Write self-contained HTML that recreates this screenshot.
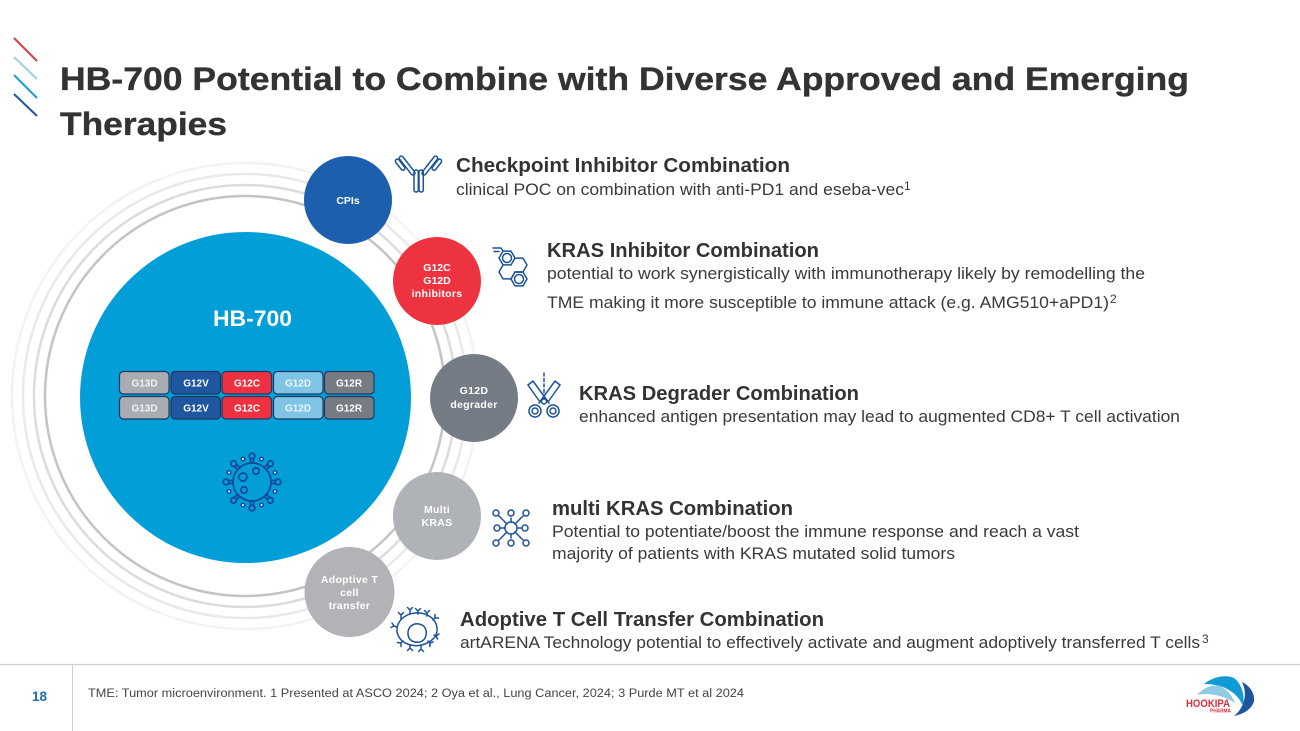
<!DOCTYPE html>
<html><head><meta charset="utf-8"><style>
html,body{margin:0;padding:0;background:#fff;width:1300px;height:731px;overflow:hidden}
svg{display:block}
text{font-family:"Liberation Sans",sans-serif}
.t{font-weight:bold;font-size:32px;fill:#333;stroke:#333;stroke-width:.35}
.h{font-weight:bold;font-size:20px;fill:#333}
.b{font-size:16.5px;fill:#3a3a3a}
.s{font-size:12px;fill:#3a3a3a}
.c{font-weight:bold;font-size:10.5px;fill:#fff;text-anchor:middle}
.k{font-weight:bold;font-size:10px;text-anchor:middle;fill:#fff}
.i{fill:none;stroke:#1b5299;stroke-width:1.5;stroke-linejoin:round;stroke-linecap:round}
</style></head><body>
<svg width="1300" height="731" viewBox="0 0 1300 731" xmlns="http://www.w3.org/2000/svg">
<rect width="1300" height="731" fill="#fff"/>
<g stroke-width="2" fill="none">
<line x1="14" y1="38" x2="37" y2="61" stroke="#d2404a"/>
<line x1="14" y1="57" x2="37" y2="79" stroke="#9ed0e2"/>
<line x1="14" y1="75" x2="37" y2="98" stroke="#1f9ad2"/>
<line x1="14" y1="94" x2="37" y2="116" stroke="#1d559f"/>
</g>
<text class="t" x="60" y="90" textLength="1129" lengthAdjust="spacingAndGlyphs">HB-700 Potential to Combine with Diverse Approved and Emerging</text>
<text class="t" x="60" y="135" textLength="167" lengthAdjust="spacingAndGlyphs">Therapies</text>

<g fill="none">
<circle cx="245" cy="396" r="233" stroke="#f3f3f3" stroke-width="2.5"/>
<circle cx="245" cy="396" r="222" stroke="#e9e9e9" stroke-width="2.5"/>
<circle cx="245" cy="396" r="211" stroke="#dcdcdc" stroke-width="2.5"/>
<circle cx="245" cy="396" r="200" stroke="#c4c4c4" stroke-width="2.5"/>
</g>
<circle cx="245.5" cy="397.5" r="165.5" fill="#029ed8"/>
<text x="252.5" y="326" font-size="22" font-weight="bold" fill="#fff" text-anchor="middle" textLength="79" lengthAdjust="spacingAndGlyphs">HB-700</text>

<g stroke="#1f3a60" stroke-width="1.2">
<rect x="119.5" y="371.5" width="49.500" height="22.500" rx="4" fill="#a9acb3"/>
<rect x="171" y="371.500" width="49.500" height="22.500" rx="4" fill="#1e56a0"/>
<rect x="222" y="371.500" width="49.500" height="22.500" rx="4" fill="#ed3140"/>
<rect x="273.500" y="371.500" width="49.500" height="22.500" rx="4" fill="#7fc4e4"/>
<rect x="324.500" y="371.500" width="49.500" height="22.500" rx="4" fill="#777b84"/>
<rect x="119.5" y="396.500" width="49.500" height="22.500" rx="4" fill="#a9acb3"/>
<rect x="171" y="396.500" width="49.500" height="22.500" rx="4" fill="#1e56a0"/>
<rect x="222" y="396.500" width="49.500" height="22.500" rx="4" fill="#ed3140"/>
<rect x="273.500" y="396.500" width="49.500" height="22.500" rx="4" fill="#7fc4e4"/>
<rect x="324.500" y="396.500" width="49.500" height="22.500" rx="4" fill="#777b84"/>
</g>
<g>
<text class="k" x="144.500" y="386.500" fill-opacity=".85">G13D</text><text class="k" x="196" y="386.500">G12V</text><text class="k" x="247" y="386.500">G12C</text><text class="k" x="298" y="386.500" fill-opacity=".85">G12D</text><text class="k" x="349" y="386.500">G12R</text>
<text class="k" x="144.500" y="411.500" fill-opacity=".85">G13D</text><text class="k" x="196" y="411.500">G12V</text><text class="k" x="247" y="411.500">G12C</text><text class="k" x="298" y="411.500" fill-opacity=".85">G12D</text><text class="k" x="349" y="411.500">G12R</text>
</g>

<!-- virus -->
<g transform="translate(252,482)" fill="none" stroke="#0d4a9c" stroke-width="1.8">
<circle r="19"/>
<circle cx="-9" cy="-5" r="4"/><circle cx="4" cy="-11" r="3.200"/><circle cx="-8" cy="8" r="3.200"/>
<g><path d="M-1.500 -19V-23.500M1.500 -19V-23.500"/><circle cy="-26" r="2.800"/></g>
<g transform="rotate(45)"><path d="M-1.500 -19V-23.500M1.500 -19V-23.500"/><circle cy="-26" r="2.800"/></g>
<g transform="rotate(90)"><path d="M-1.500 -19V-23.500M1.500 -19V-23.500"/><circle cy="-26" r="2.800"/></g>
<g transform="rotate(135)"><path d="M-1.500 -19V-23.500M1.500 -19V-23.500"/><circle cy="-26" r="2.800"/></g>
<g transform="rotate(180)"><path d="M-1.500 -19V-23.500M1.500 -19V-23.500"/><circle cy="-26" r="2.800"/></g>
<g transform="rotate(225)"><path d="M-1.500 -19V-23.500M1.500 -19V-23.500"/><circle cy="-26" r="2.800"/></g>
<g transform="rotate(270)"><path d="M-1.500 -19V-23.500M1.500 -19V-23.500"/><circle cy="-26" r="2.800"/></g>
<g transform="rotate(315)"><path d="M-1.500 -19V-23.500M1.500 -19V-23.500"/><circle cy="-26" r="2.800"/></g>
<g fill="#fff" stroke-width="1.500">
<circle cx="-9" cy="-23" r="1.800"/><circle cx="9.500" cy="-23" r="1.800"/><circle cx="23" cy="-9.500" r="1.800"/><circle cx="23" cy="9.500" r="1.800"/><circle cx="9.500" cy="23" r="1.800"/><circle cx="-9" cy="23" r="1.800"/><circle cx="-23" cy="9.500" r="1.800"/><circle cx="-23" cy="-9.500" r="1.800"/>
</g>
</g>

<!-- satellite circles -->
<circle cx="348" cy="200" r="44" fill="#1c5fac"/>
<circle cx="437" cy="281" r="44" fill="#ee3340"/>
<circle cx="474" cy="398" r="44" fill="#757c85"/>
<circle cx="437" cy="516" r="44" fill="#afb2b6"/>
<circle cx="349.500" cy="592" r="45" fill="#b1b3b7"/>
<text class="c" x="348" y="204">CPIs</text>
<text class="c" x="437" y="271">G12C</text><text class="c" x="437" y="284">G12D</text><text class="c" x="437" y="297" letter-spacing=".3">inhibitors</text>
<text class="c" x="474" y="394" letter-spacing=".3">G12D</text><text class="c" x="474" y="408" letter-spacing=".3">degrader</text>
<text class="c" x="437" y="513" letter-spacing=".3">Multi</text><text class="c" x="437" y="526" letter-spacing=".3">KRAS</text>
<text class="c" x="349.500" y="583" letter-spacing=".3">Adoptive T</text><text class="c" x="349.500" y="596" letter-spacing=".3">cell</text><text class="c" x="349.500" y="609" letter-spacing=".3">transfer</text>

<!-- antibody icon -->
<g class="i" stroke-width="1.300">
<rect x="414" y="170" width="4.300" height="22" rx="2"/>
<rect x="419" y="170" width="4.300" height="22" rx="2"/>
<g transform="rotate(-38 416 172)"><rect x="411" y="150" width="4" height="23" rx="2"/><rect x="406" y="150" width="4" height="13" rx="2"/></g>
<g transform="rotate(38 421 172)"><rect x="422" y="150" width="4" height="23" rx="2"/><rect x="427" y="150" width="4" height="13" rx="2"/></g>
</g>
<!-- molecule -->
<g class="i">
<path d="M493 248H501L503 251M494 251.500H499"/>
<path d="M499 258L503 251.100H511L515 258L511 264.900H503Z"/>
<path d="M515 258.100H523L527 265L523 271.900H515"/>
<path d="M503 265V265L499 272L503 278.900H511L515 272"/>
<path d="M511 279L515 272.100H523L527 279L523 285.900H515Z"/>
<circle cx="507" cy="258" r="4.500"/>
<circle cx="519" cy="279" r="4.500"/>
</g>
<!-- scissors -->
<g class="i" stroke-width="1.500">
<path d="M544 373V399" stroke-dasharray="3 2.500"/>
<path d="M528 385L533 381L549 403"/>
<path d="M528 385L540 402"/>
<path d="M560 385L555 381L539 403"/>
<path d="M560 385L548 402"/>
<circle cx="544" cy="401.500" r="2.500"/>
<circle cx="535" cy="411" r="6"/><circle cx="535" cy="411" r="3"/>
<circle cx="553" cy="411" r="6"/><circle cx="553" cy="411" r="3"/>
</g>
<!-- network -->
<g class="i" stroke-width="1.500">
<circle cx="511" cy="528" r="6"/>
<path d="M511 522V518M511 534V538M505 528H501M517 528H521M507 524L499 516M515 524L523 516M507 532L499 540M515 532L523 540"/>
<circle cx="496" cy="513" r="3"/><circle cx="511" cy="513" r="3"/><circle cx="526" cy="513" r="3"/>
<circle cx="497" cy="528" r="3"/><circle cx="525" cy="528" r="3"/>
<circle cx="496" cy="543" r="3"/><circle cx="511" cy="543" r="3"/><circle cx="526" cy="543" r="3"/>
</g>
<!-- T cell -->
<g class="i" stroke-width="1.400">
<path d="M397 632C396 622 404 614 415 613C426 612 436 618 437 628C438 636 432 641 425 644C415 648 400 645 397 632Z"/>
<path d="M408 633C408 626 414 623 419 624C425 625 427 630 426 635C425 641 420 643 415 642C410 641 408 638 408 633Z"/>
<path d="M401 619L401 615L398.500 612.500M401 615L403.500 612.500" />
<path d="M410 614V610L407.500 607.500M410 610L412.500 607.500"/>
<path d="M418 614V611L415.500 608.500M418 611L420.500 608.500"/>
<path d="M427 616V613L424.500 610.500M427 613L429.500 610.500"/>
<path d="M433 620L435 618L435 614.500M435 618L438.500 618"/>
<path d="M434 635L436 636L439 634M436 636L437.500 639"/>
<path d="M428 641L430 643L433 642M430 643L430 646.500"/>
<path d="M421 645V649L418.500 651.500M421 649L423.500 651.500"/>
<path d="M410 645V648L407.500 650.500M410 648L412.500 650.500"/>
<path d="M403 641L401 643L397.500 642.500M401 643L401 646.500"/>
<path d="M397 627L394 626L392 623M394 626L391 627.500"/>
</g>

<!-- text -->
<text class="h" x="456" y="172" textLength="334" lengthAdjust="spacingAndGlyphs">Checkpoint Inhibitor Combination</text>
<text class="b" x="456" y="195" textLength="448" lengthAdjust="spacingAndGlyphs">clinical POC on combination with anti-PD1 and eseba-vec</text>
<text class="s" x="904" y="190">1</text>
<text class="h" x="547" y="257" textLength="272" lengthAdjust="spacingAndGlyphs">KRAS Inhibitor Combination</text>
<text class="b" x="547" y="279" textLength="598" lengthAdjust="spacingAndGlyphs">potential to work synergistically with immunotherapy likely by remodelling the</text>
<text class="b" x="547" y="308" textLength="562" lengthAdjust="spacingAndGlyphs">TME making it more susceptible to immune attack (e.g. AMG510+aPD1)</text>
<text class="s" x="1110" y="303">2</text>
<text class="h" x="579" y="400" textLength="280" lengthAdjust="spacingAndGlyphs">KRAS Degrader Combination</text>
<text class="b" x="579" y="422" textLength="601" lengthAdjust="spacingAndGlyphs">enhanced antigen presentation may lead to augmented CD8+ T cell activation</text>
<text class="h" x="552" y="515" textLength="241" lengthAdjust="spacingAndGlyphs">multi KRAS Combination</text>
<text class="b" x="552" y="537" textLength="527" lengthAdjust="spacingAndGlyphs">Potential to potentiate/boost the immune response and reach a vast</text>
<text class="b" x="552" y="559" textLength="403" lengthAdjust="spacingAndGlyphs">majority of patients with KRAS mutated solid tumors</text>
<text class="h" x="460" y="626" textLength="364" lengthAdjust="spacingAndGlyphs">Adoptive T Cell Transfer Combination</text>
<text class="b" x="460" y="648" textLength="740" lengthAdjust="spacingAndGlyphs">artARENA Technology potential to effectively activate and augment adoptively transferred T cells</text>
<text class="s" x="1202" y="643">3</text>

<!-- footer -->
<line x1="0" y1="664.500" x2="1300" y2="664.500" stroke="#cfcfcf" stroke-width="1.200"/>
<line x1="72.500" y1="664" x2="72.500" y2="731" stroke="#cfcfcf" stroke-width="1"/>
<text x="32" y="701" font-size="13.500" font-weight="bold" fill="#1c6cb0">18</text>
<text x="88" y="697" font-size="11.500" fill="#444" textLength="656" lengthAdjust="spacingAndGlyphs">TME: Tumor microenvironment. 1 Presented at ASCO 2024; 2 Oya et al., Lung Cancer, 2024; 3 Purde MT et al 2024</text>

<!-- logo -->
<path d="M1242 682C1251 686 1255 695 1254 701C1252 709 1244 714 1234 716C1242 710 1249 696 1242 682Z" fill="#1d559f"/>
<path d="M1204 684C1212 677 1226 674 1234 678C1242 684 1245 696 1243 706C1238 694 1226 684 1204 684Z" fill="#109ad6"/>
<path d="M1197 695C1203 688 1212 684 1220 686C1228 690 1233 697 1235 703C1226 697 1212 692 1197 695Z" fill="#8fcbe3"/>
<text x="1186" y="707" font-size="11" font-weight="bold" fill="#d7303f" textLength="44" lengthAdjust="spacingAndGlyphs">HOOKIPA</text>
<text x="1210" y="712.500" font-size="5.500" font-weight="bold" fill="#d7303f" textLength="21" lengthAdjust="spacingAndGlyphs">PHARMA</text>
</svg>
</body></html>
